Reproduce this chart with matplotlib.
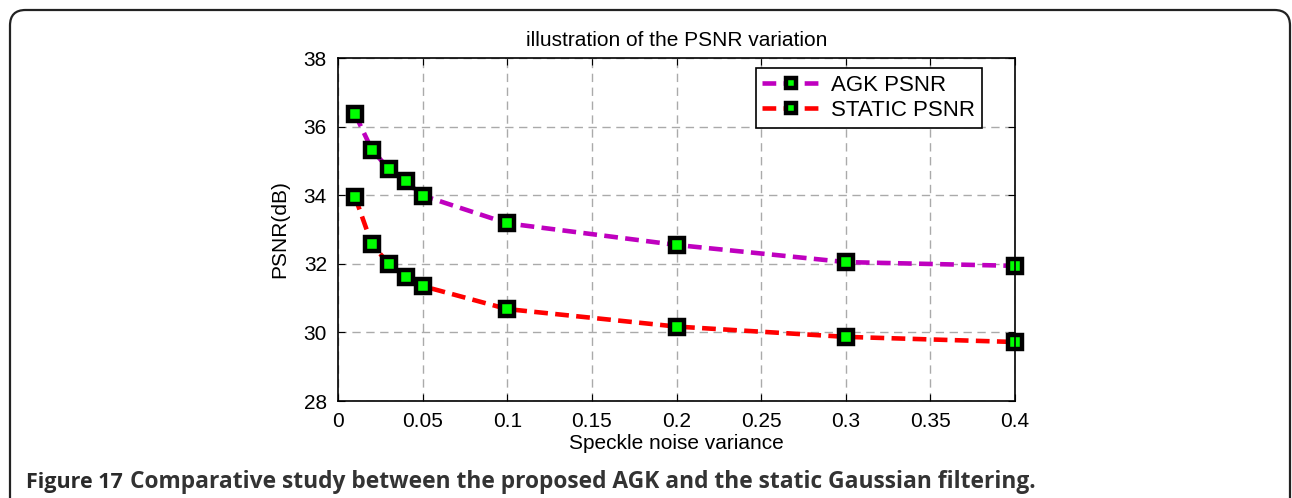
import matplotlib.pyplot as plt
from matplotlib.patches import FancyBboxPatch

# data
noise_var = [0.01, 0.02, 0.03, 0.04, 0.05, 0.1, 0.2, 0.3, 0.4]
agk_psnr = [36.37, 35.33, 34.76, 34.40, 33.99, 33.18, 32.55, 32.05, 31.94]
static_psnr = [33.96, 32.57, 32.00, 31.62, 31.35, 30.68, 30.17, 29.87, 29.72]
xticks = [0, 0.05, 0.1, 0.15, 0.2, 0.25, 0.3, 0.35, 0.4]
xticklabels = ['0', '0.05', '0.1', '0.15', '0.2', '0.25', '0.3', '0.35', '0.4']
yticks = [28, 30, 32, 34, 36, 38]

plt.rcParams['font.family'] = ['Liberation Sans', 'DejaVu Sans']

fig = plt.figure(figsize=(12.92, 4.98), dpi=100)
W, H = 1292, 498

# rounded frame around the figure (open at the bottom)
frame = FancyBboxPatch((10 / W, -0.2), 1280 / W, 1.2 - 10 / H,
                       boxstyle='round,pad=0,rounding_size=0.012',
                       transform=fig.transFigure, fill=False,
                       edgecolor='#222222', linewidth=1.6, mutation_aspect=W / H)
fig.patches.append(frame)

ax = fig.add_axes([338 / W, 1 - 401 / H, (1015 - 338) / W, (401 - 58) / H])

mk = dict(marker='s', markersize=9.5, markerfacecolor='#00ff00',
          markeredgecolor='black', markeredgewidth=3.2)
ax.plot(noise_var, agk_psnr, '--', color='#bf00bf', lw=3.3, dashes=(3, 1.6),
        label='AGK PSNR', clip_on=False, **mk)
ax.plot(noise_var, static_psnr, '--', color='#ff0000', lw=3.3, dashes=(3, 1.6),
        label='STATIC PSNR', clip_on=False, **mk)

ax.set_xlim(0, 0.4)
ax.set_ylim(28, 38)
ax.set_xticks(xticks)
ax.set_xticklabels(xticklabels)
ax.set_yticks(yticks)
ax.tick_params(direction='in', top=True, right=True, labelsize=15, length=5, pad=8)
ax.grid(True, color='#aaaaaa', linestyle=(0, (6, 4)), linewidth=1)
for s in ax.spines.values():
    s.set_linewidth(1.2)

ax.set_title('illustration of the PSNR variation', fontsize=15, pad=9)
ax.set_xlabel('Speckle noise variance', fontsize=15, labelpad=2)
ax.set_ylabel('PSNR(dB)', fontsize=15, labelpad=10)

leg = ax.legend(loc='upper right', bbox_to_anchor=(0.951, 0.971), borderaxespad=0,
                fontsize=16, fancybox=False, framealpha=1, edgecolor='black',
                handlelength=2.6, borderpad=0.3, labelspacing=0.2,
                handletextpad=0.5, markerscale=0.8)
leg.get_frame().set_linewidth(1.2)

# caption: bold "Figure 17" followed by the rest
cap_y = 1 - 482 / H
cap_font = ['Open Sans', 'DejaVu Sans']
t1 = fig.text(26 / W, cap_y, 'Figure 17', fontsize=15.5, fontweight='bold',
              family=cap_font, color='#2a2a2a', va='center')
fig.canvas.draw()
bb = t1.get_window_extent()
fig.text((bb.x1 + 7) / W, cap_y,
         'Comparative study between the proposed AGK and the static Gaussian filtering.',
         fontsize=16.4, fontweight='bold', family=cap_font,
         color='#333333', va='center')

fig.savefig('out.png', dpi=100)
